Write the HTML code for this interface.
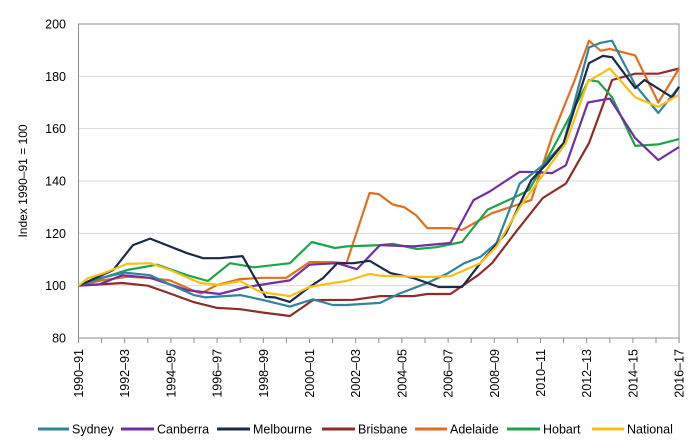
<!DOCTYPE html>
<html><head><meta charset="utf-8">
<style>
html,body{margin:0;padding:0;background:#fff;}
svg{display:block;font-family:"Liberation Sans",sans-serif;}
</style></head>
<body>
<svg id="c" width="700" height="448" viewBox="0 0 700 448" xmlns="http://www.w3.org/2000/svg">
<g id="grid" stroke="#d9d9d9" stroke-width="1"></g>
<rect x="78.5" y="24" width="600.5" height="314" fill="none" stroke="#8c8c8c" stroke-width="1"/>
<g id="ticks" stroke="#8c8c8c" stroke-width="1"></g>
<g id="ylab" font-size="12.5" fill="#000" text-anchor="end"></g>
<g id="xlab" font-size="12.5" fill="#000"></g>
<text transform="translate(27,181) rotate(-90)" font-size="12" text-anchor="middle">Index 1990–91 = 100</text>
<g id="series" fill="none" stroke-width="2.2" stroke-linejoin="round"></g>
<g id="legend" font-size="12.5"></g>
</svg>
<script>
var NS="http://www.w3.org/2000/svg";
function el(p,t,a,txt){var e=document.createElementNS(NS,t);for(var k in a)e.setAttribute(k,a[k]);if(txt)e.textContent=txt;document.getElementById(p).appendChild(e);return e;}
function X(t){return 78.5+t*23.1;}
function Y(v){return 338-(v-80)*2.6167;}
for(var v=100;v<=180;v+=20){el("grid","line",{x1:78.5,x2:679,y1:Y(v),y2:Y(v)});}
for(var v=80;v<=200;v+=20){el("ylab","text",{x:66,y:Y(v)+4.5},String(v));}
for(var t=0;t<=26;t++){el("ticks","line",{x1:X(t),x2:X(t),y1:338,y2:343});}
for(var t=0;t<=26;t+=2){var y1=1990+t,y2=(y1+1)%100;var s=y1+"–"+(y2<10?"0"+y2:y2);
 el("xlab","text",{transform:"translate("+(X(t)+4.5)+",349) rotate(-90)","text-anchor":"end"},s);}
var S=[
["Sydney","#31849B",[[0,100],[1,103],[2,105],[3.1,104],[4,100.3],[5,96.4],[5.5,95.5],[7,96.4],[8,94.5],[9.15,92],[10.15,94.8],[11,92.6],[11.6,92.6],[13.05,93.4],[13.9,97],[15.1,101],[16,104.8],[16.7,108.6],[17.4,111],[18.1,116.3],[19.1,139],[20.1,146],[21,154.5],[22.1,191],[22.6,192.8],[23.1,193.6],[24.1,176.7],[25.1,166],[26,176]]],
["Canberra","#7030A0",[[0,100],[0.9,100.5],[1.9,104],[3.1,103],[4.7,98.3],[6.1,96.8],[7.3,99.5],[8.4,101],[9.15,102],[10,108],[11.2,108.6],[12.05,106.3],[13.05,115.5],[14.5,115],[16.1,116.3],[17.1,132.7],[17.8,136],[19.1,143.5],[19.8,143.4],[20.5,143],[21.1,146],[22.05,170],[23,171.5],[24.1,156.4],[25.1,148],[26,153]]],
["Melbourne","#1B2A47",[[0,100],[1.5,106],[2.36,115.5],[3.1,118],[4.7,112.4],[5.4,110.5],[6.1,110.5],[7.1,111.3],[8.1,95.7],[8.5,95.5],[9.15,93.8],[10,99.5],[10.6,103],[11.2,108.6],[11.9,108.6],[12.6,109.5],[13.5,104.8],[14.5,102.9],[15.6,99.5],[16.6,99.5],[17.4,108.6],[18.5,120],[19.6,140.4],[20.3,146.8],[21,154.5],[22.1,185],[22.7,187.8],[23.1,187.3],[24.1,175.5],[24.5,178.6],[25.7,172],[26,176]]],
["Brisbane","#8B2E2A",[[0,100],[1.9,101],[3,100],[3.96,97],[4.96,93.8],[6,91.5],[7,91],[8,89.7],[9.15,88.4],[10.15,94.5],[11.9,94.6],[13.05,96],[14.5,96],[15.1,96.8],[16.1,96.8],[17.3,104],[17.9,108.6],[19,121.3],[20.1,133.5],[21.1,139],[22.1,154.5],[23.1,178.6],[24.1,181],[25.1,181],[26,183]]],
["Adelaide","#E07020",[[0,100],[1,102],[2.1,103.4],[3,103],[3.96,102],[5,98],[5.3,97],[6,100.3],[7,102.5],[8,103],[9,103],[10,109],[11,109],[11.6,108.6],[12.6,135.4],[13,135],[13.6,131],[14.1,130],[14.6,127],[15.1,122],[16.1,122],[16.6,121.3],[17.9,127.7],[19.6,132.7],[20.5,157],[21.5,179],[22.1,193.6],[22.6,189.8],[23,190.5],[24.1,188],[25.1,170],[26,183]]],
["Hobart","#1FA34A",[[0,100],[2.1,106],[3.4,108],[4.7,104],[5.6,101.8],[6.56,108.6],[7.6,107],[9.15,108.6],[10.1,116.7],[11.1,114.4],[11.6,115],[13.05,115.5],[13.6,116],[14.65,114],[15.5,114.7],[16.6,116.7],[17.7,129],[19.1,134.7],[19.5,136.6],[20.5,151.8],[22.1,178.6],[22.5,178],[23.1,172],[24.1,153.4],[25.1,154],[26,156]]],
["National","#F5C118",[[0,100],[0.4,102.8],[1.1,104.8],[2.1,108.3],[3.1,108.6],[3.96,106],[5.26,101],[6.1,100.3],[7,101.8],[7.86,97.6],[9.15,96],[10,99.5],[11,101],[11.6,101.8],[12.6,104.5],[13.05,103.8],[15.1,103.3],[16.1,103.6],[17.4,108.6],[18.1,115],[19.1,130],[21.1,154.5],[22.05,178],[23,183],[24.1,172],[25.1,168.3],[26,173]]]
];
var order=[3,4,5,1,0,2,6];
order.forEach(function(i){var s=S[i];var d=s[2].map(function(p,j){return (j?"L":"M")+X(p[0]).toFixed(1)+" "+Y(p[1]).toFixed(1);}).join(" ");el("series","path",{d:d,stroke:s[1]});});
var lx=[[38,72],[121,157],[217,253],[322,358],[415,450],[507,543],[592,627]];
S.forEach(function(s,i){el("legend","line",{x1:lx[i][0],x2:lx[i][1]-3,y1:429,y2:429,stroke:s[1],"stroke-width":3});el("legend","text",{x:lx[i][1],y:433.5},s[0]);});
</script>
</body></html>
